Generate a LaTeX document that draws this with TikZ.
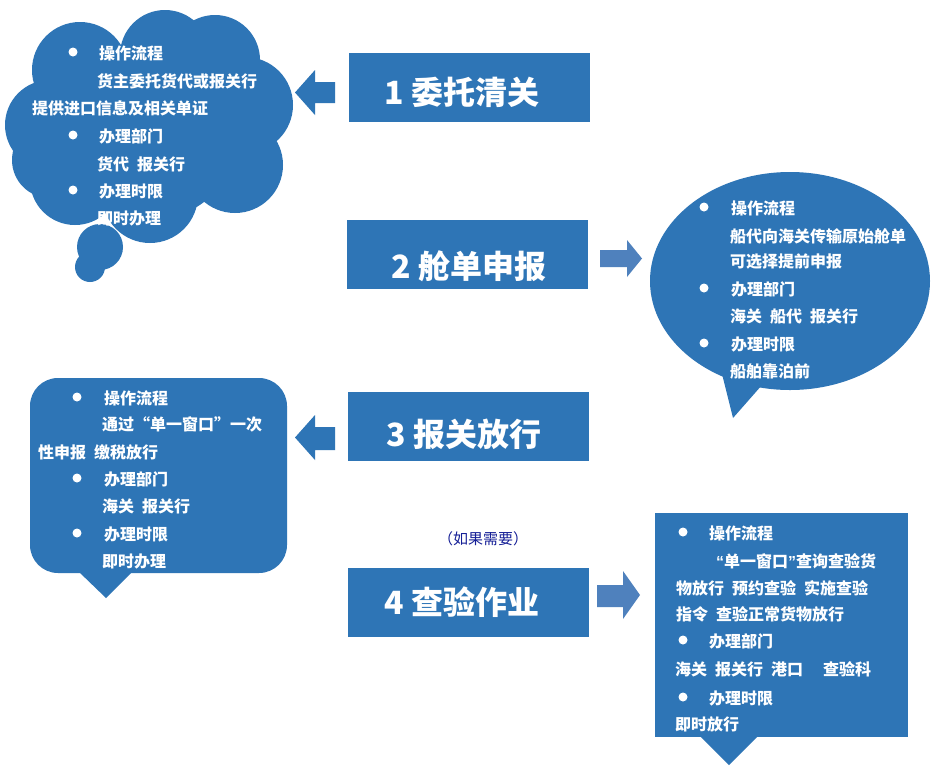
\documentclass[tikz,border=0pt]{standalone}
\usepackage{fontspec}
\newfontfamily\cjk{Noto Sans CJK SC}
\newfontfamily\latq{Liberation Sans}
\definecolor{mainblue}{RGB}{46,117,182}
\definecolor{lightblue}{RGB}{79,129,189}
\definecolor{navytxt}{RGB}{20,30,150}
\tikzset{
  stepbox/.style={fill=mainblue, minimum width=241pt, minimum height=69pt, inner sep=0pt},
  bigtxt/.style={text=white, font=\cjk\bfseries\fontsize{32pt}{32pt}\selectfont, inner sep=0pt, text height=0.83em, text depth=0.07em, yshift=-9pt},
  ct/.style={text=white, font=\cjk\bfseries\fontsize{16pt}{16pt}\selectfont, anchor=west, inner sep=0pt, text height=0.83em, text depth=0.07em, yshift=-4pt},
  bul/.style={fill=white},
  blk/.style={fill=mainblue},
  lblk/.style={fill=lightblue},
}
\newcommand\txtline[4]{\node[ct] (#1) at (#2,#3) {#4};}
\newcommand\bullt[2]{\fill[bul] (#1,#2) circle (4.5pt);}
\newcommand\myLq{{\latq\bfseries “}}
\newcommand\myRq{{\latq\bfseries ”}}
\begin{document}
\begin{tikzpicture}[x=1pt,y=-1pt]
\useasboundingbox (0,0) rectangle (937,769);
\fill[white] (0,0) rectangle (937,769);

% ---------- main step boxes ----------
\node[stepbox] (b1) at (469,87) {};
\node[stepbox] (b2) at (467.5,254) {};
\node[stepbox] (b3) at (468.5,426.5) {};
\node[stepbox] (b4) at (468.5,602.5) {};
\node[bigtxt] (b1t) at (462,92) {1 委托清关};
\node[bigtxt] (b2t) at (469,266) {2 舱单申报};
\node[bigtxt] (b3t) at (464,434) {3 报关放行};
\node[bigtxt] (b4t) at (462,602) {4 查验作业};

% ---------- block arrows ----------
\fill[blk] (335,82) -- (315,82) -- (315,70) -- (295,92.5) -- (315,115) -- (315,103) -- (335,103) -- cycle;
\fill[lblk] (600,250) -- (627,250) -- (627,240) -- (642,258.5) -- (627,277) -- (627,267) -- (600,267) -- cycle;
\fill[blk] (335,427) -- (315,427) -- (315,415) -- (295,437.5) -- (315,460) -- (315,450) -- (335,450) -- cycle;
\fill[lblk] (597,585) -- (623,585) -- (623,571) -- (640,595) -- (623,619) -- (623,607) -- (597,607) -- cycle;

% ---------- cloud callout (1) ----------
\begin{scope}[blk]
\fill (50,125) circle (45pt);
\fill (50,160) circle (38pt);
\fill (80,70) circle (48pt);
\fill (165,55) circle (45pt);
\fill (215,60) circle (45pt);
\fill (245,105) circle (48pt);
\fill (235,165) circle (48pt);
\fill (150,195) circle (48pt);
\fill (75,180) circle (45pt);
\fill (150,130) circle (90pt);
\fill (100,247) circle (23pt);
\fill (90,267) circle (15pt);
\end{scope}
\bullt{73}{52}
\txtline{c1a}{99}{52}{操作流程}
\txtline{c1b}{97}{80}{货主委托货代或报关行}
\txtline{c1c}{32}{107}{提供进口信息及相关单证}
\bullt{73}{135}
\txtline{c1d}{99}{135}{办理部门}
\txtline{c1e}{97}{163}{货代\hspace{8pt}报关行}
\bullt{73}{190}
\txtline{c1f}{99}{190}{办理时限}
\txtline{c1g}{97}{217}{即时办理}

% ---------- oval callout (2) ----------
\fill[blk] (790,281) ellipse (140pt and 109pt);
\fill[blk] (722,374) -- (733,418) -- (762,385) -- cycle;
\bullt{704}{207}
\txtline{c2a}{731}{207}{操作流程}
\txtline{c2b}{730}{235}{船代向海关传输原始舱单}
\txtline{c2c}{730}{260}{可选择提前申报}
\bullt{704}{288}
\txtline{c2d}{731}{288}{办理部门}
\txtline{c2e}{730}{315}{海关\hspace{8pt}船代\hspace{8pt}报关行}
\bullt{704}{343}
\txtline{c2f}{731}{343}{办理时限}
\txtline{c2g}{730}{370}{船舶靠泊前}

% ---------- rounded callout (3) ----------
\fill[blk, rounded corners=28pt] (30,378) rectangle (287,573);
\fill[blk] (78,571) -- (106,598) -- (133,571) -- cycle;
\bullt{77}{397}
\txtline{c3a}{104}{397}{操作流程}
\txtline{c3b}{102}{423}{通过“单一窗口”一次}
\txtline{c3c}{38}{451}{性申报\hspace{8pt}缴税放行}
\bullt{77}{478}
\txtline{c3d}{104}{478}{办理部门}
\txtline{c3e}{102}{505}{海关\hspace{8pt}报关行}
\bullt{77}{533}
\txtline{c3f}{104}{533}{办理时限}
\txtline{c3g}{102}{560}{即时办理}

% ---------- rectangular callout (4) ----------
\fill[blk] (655,513) rectangle (908,737);
\fill[blk] (700,736) -- (729,765) -- (758,736) -- cycle;
\bullt{683}{532}
\txtline{c4a}{709}{532}{操作流程}
\txtline{c4b}{716}{560}{\myLq 单一窗口\myRq 查询查验货}
\txtline{c4c}{676}{587}{物放行\hspace{8pt}预约查验\hspace{8pt}实施查验}
\txtline{c4d}{676}{613}{指令\hspace{8pt}查验正常货物放行}
\bullt{683}{640}
\txtline{c4e}{709}{640}{办理部门}
\txtline{c4f}{675}{668}{海关\hspace{8pt}报关行\hspace{8pt}港口\hspace{20pt}查验科}
\bullt{683}{697}
\txtline{c4g}{709}{697}{办理时限}
\txtline{c4h}{675}{723}{即时放行}

% ---------- note ----------
\node[text=navytxt, font=\cjk\fontsize{15pt}{15pt}\selectfont, inner sep=0pt] (note) at (483,539) {（如果需要）};
\end{tikzpicture}
\end{document}
